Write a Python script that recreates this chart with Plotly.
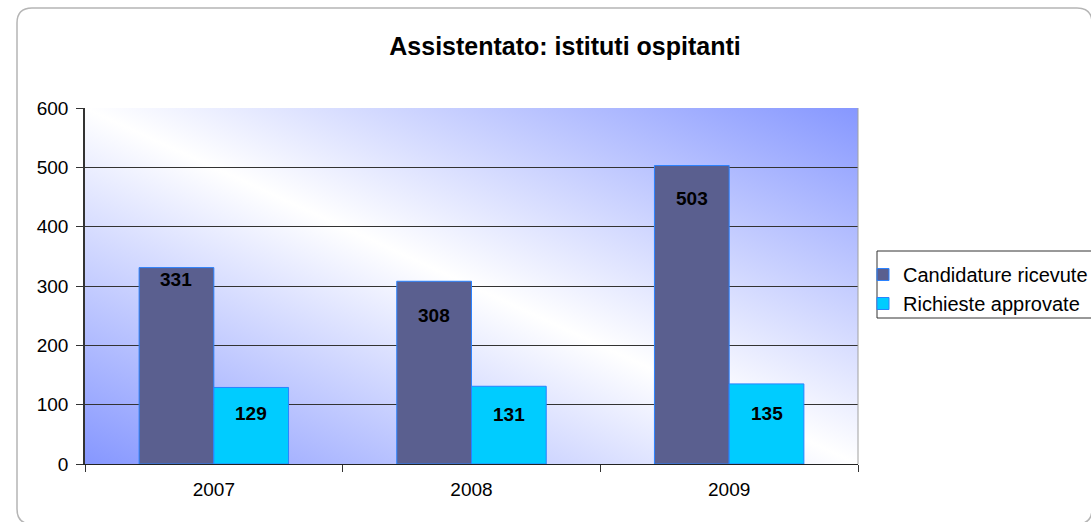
import plotly.graph_objects as go
import base64

# ---- data ----
years = ["2007", "2008", "2009"]
candidature = [331, 308, 503]
approvate = [129, 131, 135]
series_names = ["Candidature ricevute", "Richieste approvate"]
y_ticks = [0, 100, 200, 300, 400, 500, 600]
title_text = "Assistentato: istituti ospitanti"

# ---- styling / layout constants ----
W, H = 1091, 522
PL, PR, PT, PB = 85, 858, 108, 464   # plot area in px
BARGAP = 0.42
label_off_dark = [12, 34, 33]
label_off_light = [26, 28, 30]
FONT = "Liberation Sans, Arial, sans-serif"

pw, ph = PR - PL, PB - PT
def px_x(px):
    return (px - PL) / pw
def px_y(py):
    return (PB - py) / ph

svg = ('<svg xmlns="http://www.w3.org/2000/svg" width="100" height="100" viewBox="0 0 100 100" '
       'preserveAspectRatio="none"><defs><linearGradient id="g" x1="0" y1="1" x2="1" y2="0">'
       '<stop offset="0" stop-color="#8697FF"/><stop offset="0.5" stop-color="#FFFFFF"/>'
       '<stop offset="1" stop-color="#8697FF"/></linearGradient></defs>'
       '<rect width="100" height="100" fill="url(#g)"/></svg>')
svg_uri = "data:image/svg+xml;base64," + base64.b64encode(svg.encode()).decode()

fig = go.Figure()
fig.add_trace(go.Bar(x=years, y=candidature, name=series_names[0],
                     marker=dict(color="#5A5F8F", line=dict(color="#2A82FF", width=1))))
fig.add_trace(go.Bar(x=years, y=approvate, name=series_names[1],
                     marker=dict(color="#00CCFF", line=dict(color="#2A82FF", width=1))))

bar_w = pw / len(years) * (1 - BARGAP) / 2
annotations = []
for i, yr in enumerate(years):
    annotations.append(dict(x=i, y=candidature[i], xref="x", yref="y", text=f"<b>{candidature[i]}</b>",
                            showarrow=False, xshift=-bar_w / 2, yshift=-label_off_dark[i],
                            yanchor="middle", font=dict(size=19, color="black", family=FONT)))
    annotations.append(dict(x=i, y=approvate[i], xref="x", yref="y", text=f"<b>{approvate[i]}</b>",
                            showarrow=False, xshift=bar_w / 2, yshift=-label_off_light[i],
                            yanchor="middle", font=dict(size=19, color="black", family=FONT)))

# outer rounded border
r = 15
x0, x1, y0, y1 = 17, 1092, 8, 524
rx, ry = r / pw, r / ph
X0, X1, Y0, Y1 = px_x(x0), px_x(x1), px_y(y0), px_y(y1)
path = (f"M {X0+rx},{Y0} L {X1-rx},{Y0} Q {X1},{Y0} {X1},{Y0-ry} "
        f"L {X1},{Y1+ry} Q {X1},{Y1} {X1-rx},{Y1} L {X0+rx},{Y1} Q {X0},{Y1} {X0},{Y1+ry} "
        f"L {X0},{Y0-ry} Q {X0},{Y0} {X0+rx},{Y0} Z")

shapes = [
    dict(type="path", path=path, xref="paper", yref="paper",
         line=dict(color="#B5B5B5", width=1.5), layer="below"),
    dict(type="line", xref="paper", yref="paper", x0=1, x1=1, y0=0, y1=1,
         line=dict(color="#A0A0A0", width=1)),
    dict(type="rect", xref="paper", yref="paper",
         x0=px_x(877), x1=px_x(1100), y0=px_y(251), y1=px_y(318),
         line=dict(color="#333333", width=1), fillcolor="rgba(0,0,0,0)"),
]

fig.update_layout(
    width=W, height=H,
    margin=dict(l=PL, r=W - PR, t=PT, b=H - PB, pad=0, autoexpand=False),
    paper_bgcolor="white",
    plot_bgcolor="rgba(0,0,0,0)",
    barmode="group",
    bargap=BARGAP,
    bargroupgap=0,
    font=dict(family=FONT, size=19, color="black"),
    title=dict(text=f"<b>{title_text}</b>", x=565 / W, xanchor="center",
               y=1 - 46 / H, yanchor="middle", yref="container", automargin=False,
               font=dict(size=25, family=FONT, color="black")),
    showlegend=True,
    legend=dict(x=px_x(863), y=px_y(255), xanchor="left", yanchor="top",
                bgcolor="rgba(0,0,0,0)", borderwidth=0,
                font=dict(size=20, family=FONT, color="black"),
                tracegroupgap=0, itemclick=False),
    images=[dict(source=svg_uri, xref="paper", yref="paper", x=0, y=1, sizex=1, sizey=1,
                 sizing="stretch", layer="below", xanchor="left", yanchor="top")],
    shapes=shapes,
    annotations=annotations,
)
fig.update_xaxes(type="category", categoryorder="array", categoryarray=years,
                 range=[-0.5, len(years) - 0.5], automargin=False, tickangle=0,
                 showgrid=False, showline=True, linecolor="#222222", linewidth=1,
                 ticks="outside", tickson="boundaries", ticklen=7, tickcolor="#333333",
                 ticklabelstandoff=8,
                 tickfont=dict(size=19, family=FONT, color="black"), zeroline=False)
fig.update_yaxes(range=[0, 600], tickvals=y_ticks, automargin=False,
                 showgrid=True, gridcolor="#333333", gridwidth=1,
                 showline=True, linecolor="#333333", linewidth=1.5,
                 ticks="outside", ticklen=7, tickcolor="#333333",
                 ticklabelstandoff=4,
                 tickfont=dict(size=19, family=FONT, color="black"), zeroline=False)

fig.write_html("out.html", config={"displayModeBar": False},
               post_script="document.body.style.margin='0';document.body.style.overflow='hidden';")
